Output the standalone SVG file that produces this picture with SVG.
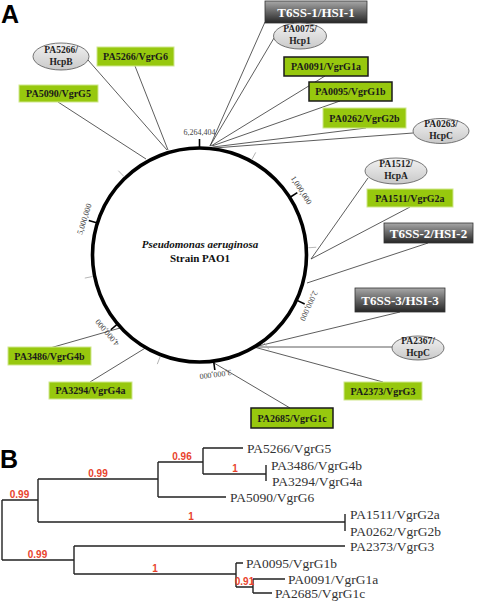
<svg xmlns="http://www.w3.org/2000/svg" width="477" height="601" viewBox="0 0 477 601">
<defs>
<linearGradient id="gT" x1="0" y1="0" x2="0" y2="1">
<stop offset="0" stop-color="#a8a8a8"/><stop offset="0.45" stop-color="#6c6c6c"/><stop offset="1" stop-color="#262626"/>
</linearGradient>
<linearGradient id="gE" x1="0" y1="0" x2="0" y2="1">
<stop offset="0" stop-color="#f2f2f2"/><stop offset="1" stop-color="#c9c9c9"/>
</linearGradient>
</defs>
<style>
.conn line{stroke:#333;stroke-width:0.8}
.gbox{fill:#97c80e;stroke:#cfe78c;stroke-width:1}
.gboxd{fill:#97c80e;stroke:#1a1a1a;stroke-width:1.5}
.gt{font-family:"Liberation Serif",serif;font-weight:bold;font-size:10px;fill:#1a1a1a;text-anchor:middle}
.ell{fill:url(#gE);stroke:#555;stroke-width:0.8}
.et{font-family:"Liberation Serif",serif;font-weight:bold;font-size:9.5px;fill:#222;text-anchor:middle}
.tbox{fill:url(#gT);stroke:#333;stroke-width:0.8}
.tt{font-family:"Liberation Serif",serif;font-weight:bold;font-size:13px;fill:#fff;text-anchor:middle}
.tick{stroke:#000;stroke-width:1.6}
.mtick{stroke:#aaa;stroke-width:0.8}
.tl{font-family:"Liberation Serif",serif;font-size:8px;fill:#444;text-anchor:middle}
.tree{fill:none;stroke:#222;stroke-width:1.4}
.leaf{font-family:"Liberation Serif",serif;font-size:13.5px;fill:#333}
.bs{font-family:"Liberation Sans",Arial,sans-serif;font-weight:bold;font-size:10px;fill:#e8432d;text-anchor:middle}
.big{font-family:"Liberation Sans",Arial,sans-serif;font-weight:bold;font-size:25px;fill:#000}
</style>

<text class="big" x="1" y="23">A</text>
<text class="big" x="0" y="468">B</text>

<!-- connectors -->
<g id="connectors" class="conn">
<line x1="210" y1="146" x2="265" y2="22"/>
<line x1="210" y1="146" x2="274" y2="38"/>
<line x1="211" y1="146" x2="325" y2="76"/>
<line x1="212" y1="146" x2="340" y2="101"/>
<line x1="213" y1="147" x2="366" y2="128"/>
<line x1="214" y1="148" x2="413" y2="133"/>
<line x1="167" y1="150" x2="88" y2="60"/>
<line x1="168" y1="150" x2="135" y2="66"/>
<line x1="146" y1="159" x2="58" y2="102"/>
<line x1="311" y1="259" x2="368" y2="178"/>
<line x1="311" y1="259" x2="410" y2="207"/>
<line x1="307" y1="283" x2="428" y2="243"/>
<line x1="254" y1="347" x2="400" y2="312"/>
<line x1="254" y1="347" x2="392" y2="347"/>
<line x1="254" y1="347" x2="383" y2="382"/>
<line x1="214" y1="363" x2="290" y2="408"/>
<line x1="120" y1="328" x2="50" y2="348"/>
<line x1="147" y1="347" x2="90" y2="382"/>
</g>

<!-- chromosome -->
<g id="chromosome">
<circle cx="199.5" cy="255" r="107" fill="none" stroke="#000" stroke-width="3.6"/>
<g transform="translate(199.5,255)">
<line class="tick" x1="0" y1="-107" x2="0" y2="-116"/>
<line class="tick" transform="rotate(57.47)" x1="0" y1="-107" x2="0" y2="-116"/>
<line class="tick" transform="rotate(114.94)" x1="0" y1="-107" x2="0" y2="-116"/>
<line class="tick" transform="rotate(172.41)" x1="0" y1="-107" x2="0" y2="-116"/>
<line class="tick" transform="rotate(229.88)" x1="0" y1="-107" x2="0" y2="-116"/>
<line class="tick" transform="rotate(287.35)" x1="0" y1="-107" x2="0" y2="-116"/>
<line class="mtick" transform="rotate(28.73)" x1="0" y1="-109" x2="0" y2="-117"/>
<line class="mtick" transform="rotate(86.2)" x1="0" y1="-109" x2="0" y2="-117"/>
<line class="mtick" transform="rotate(143.68)" x1="0" y1="-109" x2="0" y2="-117"/>
<line class="mtick" transform="rotate(201.15)" x1="0" y1="-109" x2="0" y2="-117"/>
<line class="mtick" transform="rotate(258.62)" x1="0" y1="-109" x2="0" y2="-117"/>
<line class="mtick" transform="rotate(316.09)" x1="0" y1="-109" x2="0" y2="-117"/>
<text class="tl" x="0" y="-120">6,264,404</text>
<text class="tl" transform="rotate(57.47)" x="0" y="-118">1,000,000</text>
<text class="tl" transform="rotate(114.94)" x="0" y="-118">2,000,000</text>
<text class="tl" transform="rotate(172.41)" x="0" y="-118">3,000,000</text>
<text class="tl" transform="rotate(229.88)" x="0" y="-118">4,000,000</text>
<text class="tl" transform="rotate(287.35)" x="0" y="-118">5,000,000</text>
</g>
<text x="200" y="248" font-family="Liberation Serif,serif" font-size="11" font-weight="bold" font-style="italic" text-anchor="middle" fill="#111">Pseudomonas aeruginosa</text>
<text x="200" y="262" font-family="Liberation Serif,serif" font-size="11" font-weight="bold" text-anchor="middle" fill="#111">Strain PAO1</text>
</g>

<!-- nodes -->
<g id="t6ss1"><rect class="tbox" x="265" y="1" width="102" height="22"/><text class="tt" x="316" y="17" font-size="14">T6SS-1/HSI-1</text></g>
<g id="pa0075"><ellipse class="ell" cx="300" cy="36" rx="26.5" ry="13"/><text class="et" x="300" y="32">PA0075/</text><text class="et" x="300" y="44">Hcp1</text></g>
<g id="pa0091"><rect class="gboxd" x="284" y="57" width="84" height="19"/><text class="gt" x="326" y="70">PA0091/VgrG1a</text></g>
<g id="pa0095"><rect class="gboxd" x="309" y="82" width="83" height="19"/><text class="gt" x="350.5" y="95">PA0095/VgrG1b</text></g>
<g id="pa0262"><rect class="gbox" x="323" y="108" width="83" height="20"/><text class="gt" x="364.5" y="121.5">PA0262/VgrG2b</text></g>
<g id="pa0263"><ellipse class="ell" cx="441" cy="131" rx="28" ry="12.5"/><text class="et" x="441" y="127">PA0263/</text><text class="et" x="441" y="139">HcpC</text></g>

<g id="pa5266h"><ellipse class="ell" cx="61" cy="56.5" rx="28" ry="13.5"/><text class="et" x="61" y="53">PA5266/</text><text class="et" x="61" y="65">HcpB</text></g>
<g id="pa5266v"><rect class="gbox" x="97" y="47" width="77" height="19"/><text class="gt" x="135.5" y="60">PA5266/VgrG6</text></g>
<g id="pa5090"><rect class="gbox" x="19" y="85" width="79" height="17"/><text class="gt" x="58.5" y="97">PA5090/VgrG5</text></g>

<g id="pa1512"><ellipse class="ell" cx="396" cy="171" rx="31" ry="13"/><text class="et" x="396" y="167">PA1512/</text><text class="et" x="396" y="179">HcpA</text></g>
<g id="pa1511"><rect class="gbox" x="367" y="189" width="86" height="18"/><text class="gt" x="410" y="201.5">PA1511/VgrG2a</text></g>
<g id="t6ss2"><rect class="tbox" x="384" y="223" width="89" height="20"/><text class="tt" x="428.5" y="238">T6SS-2/HSI-2</text></g>
<g id="t6ss3"><rect class="tbox" x="355" y="288" width="90" height="24"/><text class="tt" x="400" y="305">T6SS-3/HSI-3</text></g>
<g id="pa2367"><ellipse class="ell" cx="418" cy="348" rx="26" ry="12"/><text class="et" x="418" y="344">PA2367/</text><text class="et" x="418" y="356">HcpC</text></g>
<g id="pa2373"><rect class="gbox" x="344" y="382" width="78" height="18"/><text class="gt" x="383" y="394.5">PA2373/VgrG3</text></g>
<g id="pa2685"><rect class="gboxd" x="251" y="408" width="82" height="20"/><text class="gt" x="292" y="421.5">PA2685/VgrG1c</text></g>
<g id="pa3486"><rect class="gbox" x="8" y="347" width="83" height="18"/><text class="gt" x="49.5" y="359.5">PA3486/VgrG4b</text></g>
<g id="pa3294"><rect class="gbox" x="49" y="382" width="83" height="17"/><text class="gt" x="90.5" y="394">PA3294/VgrG4a</text></g>

<!-- tree -->
<g id="tree">
<path class="tree" d="M2,500 V560 M2,500 H38 M38,479 V522 M38,479 H158 M158,462 V497 M158,462 H203 M203,448 V474 M203,448 H243 M203,474 H266 M266,465 V481 M158,497 H226 M38,522 H345 M345,514 V531 M2,560 H74 M74,546 V574 M74,546 H345 M74,574 H236 M236,563 V587 M236,563 H243 M236,587 H253 M253,579 V593 M253,579 H285 M253,593 H272"/>
<text class="leaf" x="247" y="453">PA5266/VgrG5</text>
<text class="leaf" x="271" y="470">PA3486/VgrG4b</text>
<text class="leaf" x="272" y="485.5">PA3294/VgrG4a</text>
<text class="leaf" x="230" y="502">PA5090/VgrG6</text>
<text class="leaf" x="350" y="519">PA1511/VgrG2a</text>
<text class="leaf" x="350" y="535.5">PA0262/VgrG2b</text>
<text class="leaf" x="350" y="550.5">PA2373/VgrG3</text>
<text class="leaf" x="246" y="567.5">PA0095/VgrG1b</text>
<text class="leaf" x="288" y="583.5">PA0091/VgrG1a</text>
<text class="leaf" x="275" y="597.5">PA2685/VgrG1c</text>
<text class="bs" x="19.5" y="497.5">0.99</text>
<text class="bs" x="98" y="476.5">0.99</text>
<text class="bs" x="182" y="459.5">0.96</text>
<text class="bs" x="235" y="471.5">1</text>
<text class="bs" x="191" y="519.5">1</text>
<text class="bs" x="37.5" y="557.5">0.99</text>
<text class="bs" x="155" y="571.5">1</text>
<text class="bs" x="244.5" y="585">0.91</text>
</g>
</svg>
